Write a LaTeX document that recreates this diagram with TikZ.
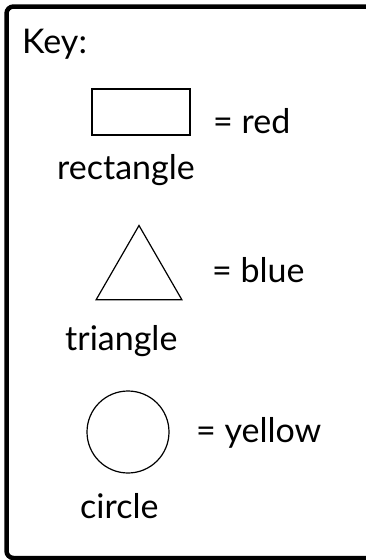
\documentclass[tikz,border=0pt]{standalone}
\usepackage{fontspec}
\setmainfont{Lato}
\usetikzlibrary{shapes.geometric}

\begin{document}
\begin{tikzpicture}[
			x=1pt, y=-1pt,
			every node/.style={inner sep=0pt, font=\fontsize{34}{40}\selectfont},
			shapebox/.style={draw, line width=1.2pt},
			lbl/.style={anchor=base west}
			]
			\useasboundingbox (0,0) rectangle (365,560);
			\draw[line width=4.5pt, rounded corners=7pt] (6.5,6.5) rectangle (390,558);
			
			% Key
			\node[lbl] (key) at (22,53) {Key:};
			
			% Shapes
			\node[shapebox, rectangle, minimum width=98pt, minimum height=46pt] (rect) at (141,112) {};
			\node[shapebox, regular polygon, regular polygon sides=3, minimum size=99pt] (tri) at (139,275) {};
			\node[shapebox, circle, minimum size=82pt] (circ) at (128,432) {};
			
			% Labels
			\node[lbl] (red) at (213,133) {= red};
			\node[lbl] (rectname) at (57,179) {rectangle};
			\node[lbl] (blue) at (212,282) {= blue};
			\node[lbl] (triname) at (65,350) {triangle};
			\node[lbl] (yellow) at (196,442) {= yellow};
			\node[lbl] (circname) at (80,518) {circle};
		\end{tikzpicture}
\end{document}
